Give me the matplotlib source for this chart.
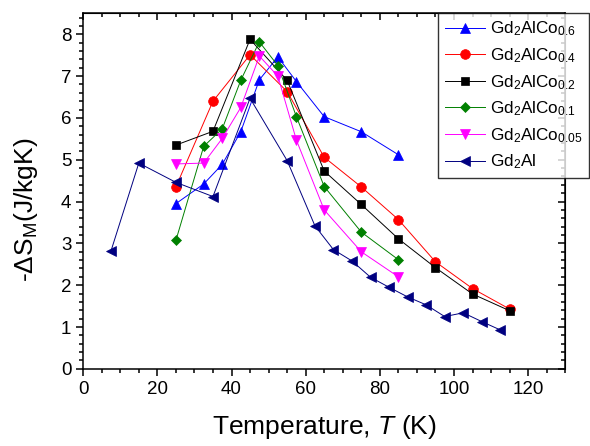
import matplotlib
matplotlib.use("Agg")
import matplotlib.pyplot as plt
from matplotlib.ticker import MultipleLocator

# ---------------------------------------------------------------------
# Font set-up (Arial look-alike, mathtext for the sub/superscripts)
# ---------------------------------------------------------------------
plt.rcParams['font.family'] = ['Liberation Sans', 'DejaVu Sans']
plt.rcParams['mathtext.fontset'] = 'custom'
plt.rcParams['mathtext.rm'] = 'Liberation Sans'
plt.rcParams['mathtext.it'] = 'Liberation Sans:italic'
plt.rcParams['mathtext.bf'] = 'Liberation Sans:bold'

# ---------------------------------------------------------------------
# Data
# ---------------------------------------------------------------------
t_co06 = [25, 32.5, 37.5, 42.5, 47.5, 52.5, 57.5, 65, 75, 85]
s_co06 = [3.95, 4.42, 4.89, 5.67, 6.91, 7.46, 6.87, 6.03, 5.67, 5.12]

t_co04 = [25, 35, 45, 55, 65, 75, 85, 95, 105, 115]
s_co04 = [4.35, 6.40, 7.51, 6.63, 5.06, 4.35, 3.57, 2.56, 1.92, 1.43]

t_co02 = [25, 35, 45, 55, 65, 75, 85, 95, 105, 115]
s_co02 = [5.35, 5.68, 7.88, 6.90, 4.73, 3.93, 3.11, 2.42, 1.79, 1.39]

t_co01 = [25, 32.5, 37.5, 42.5, 47.5, 52.5, 57.5, 65, 75, 85]
s_co01 = [3.07, 5.32, 5.74, 6.90, 7.82, 7.25, 6.03, 4.36, 3.27, 2.61]

t_co005 = [25, 32.5, 37.5, 42.5, 47.5, 52.5, 57.5, 65, 75, 85]
s_co005 = [4.90, 4.92, 5.51, 6.25, 7.48, 7.00, 5.47, 3.80, 2.80, 2.20]

t_al = [7.5, 15, 25, 35, 45, 55, 62.5, 67.5, 72.5, 77.5, 82.5,
        87.5, 92.5, 97.5, 102.5, 107.5, 112.5]
s_al = [2.82, 4.92, 4.46, 4.12, 6.47, 4.98, 3.42, 2.85, 2.58, 2.19, 1.95,
        1.72, 1.53, 1.25, 1.34, 1.13, 0.93]

series = [
    (t_co06, s_co06, r'Gd$_2$AlCo$_{0.6}$', '#0000FF', '^'),
    (t_co04, s_co04, r'Gd$_2$AlCo$_{0.4}$', '#FF0000', 'o'),
    (t_co02, s_co02, r'Gd$_2$AlCo$_{0.2}$', '#000000', 's'),
    (t_co01, s_co01, r'Gd$_2$AlCo$_{0.1}$', '#008000', 'D'),
    (t_co005, s_co005, r'Gd$_2$AlCo$_{0.05}$', '#FF00FF', 'v'),
    (t_al, s_al, r'Gd$_2$Al', '#000080', '<'),
]
marker_sizes = {'^': 7.5, 'o': 7, 's': 6.2, 'D': 5.2, 'v': 7.5, '<': 7.5}

fig = plt.figure(figsize=(5.9, 4.46), dpi=100)
ax = fig.add_axes([0.141, 0.173, 0.817, 0.797])

for t, s, label, colour, mk in series:
    ax.plot(t, s, color=colour, marker=mk, markersize=marker_sizes[mk],
            linewidth=0.7, label=label, markeredgewidth=0.5)

ax.set_xlim(0, 130)
ax.set_ylim(0, 8.5)
ax.xaxis.set_major_locator(MultipleLocator(20))
ax.xaxis.set_minor_locator(MultipleLocator(5))
ax.yaxis.set_major_locator(MultipleLocator(1))
ax.yaxis.set_minor_locator(MultipleLocator(0.2))
ax.tick_params(which='both', direction='out', labelsize=13.5, width=1.1)
ax.tick_params(which='major', length=5)
ax.tick_params(which='minor', length=3)
for sp in ax.spines.values():
    sp.set_linewidth(1.1)

# mirrored ticks on top / right pointing inwards, no labels
top = ax.secondary_xaxis('top')
top.xaxis.set_major_locator(MultipleLocator(20))
top.xaxis.set_minor_locator(MultipleLocator(5))
top.tick_params(which='both', direction='in', labeltop=False, width=1.1)
top.tick_params(which='major', length=5)
top.tick_params(which='minor', length=3)
right = ax.secondary_yaxis('right')
right.yaxis.set_major_locator(MultipleLocator(1))
right.yaxis.set_minor_locator(MultipleLocator(0.2))
right.tick_params(which='both', direction='in', labelright=False, width=1.1)
right.tick_params(which='major', length=5)
right.tick_params(which='minor', length=3)

ax.set_xlabel(r'Temperature, $\mathit{T}$ (K)', fontsize=19)
ax.xaxis.set_label_coords(0.5, -0.125)
ax.set_ylabel(r'-$\Delta$S$_\mathrm{M}$(J/kgK)', fontsize=19)
ax.yaxis.set_label_coords(-0.089, 0.447)

leg = ax.legend(loc='upper left', bbox_to_anchor=(0.742, 0.971),
                bbox_transform=fig.transFigure, borderaxespad=0,
                fontsize=12.3, frameon=True, fancybox=False,
                handlelength=2.35, labelspacing=0.46, handletextpad=0.3,
                borderpad=0.4)
leg.get_frame().set_edgecolor('black')
leg.get_frame().set_linewidth(1.0)

fig.savefig('out.png', dpi=100)
